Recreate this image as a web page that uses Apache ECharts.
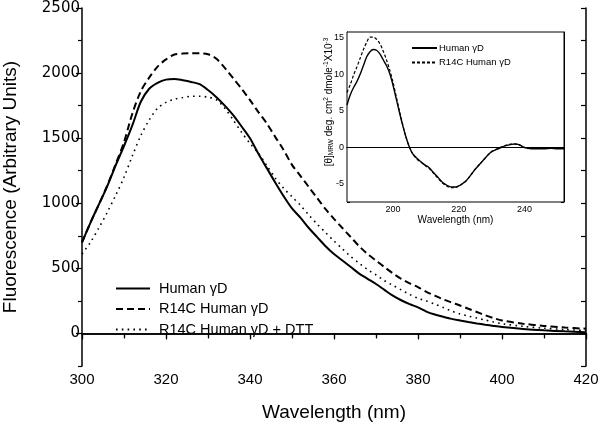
<!DOCTYPE html>
<html><head><meta charset="utf-8">
<script src="https://cdn.jsdelivr.net/npm/echarts@6/dist/echarts.min.js"></script>
<style>html,body{margin:0;padding:0;background:#fff}#c{width:600px;height:428px}</style>
</head><body><div id="c"></div>
<script>
// ---- main chart data ----
var wavelengths = [300,302,304,306,308,310,312,314,316,318,320,322,324,326,328,330,332,334,336,338,340,342,344,346,348,350,352,354,356,358,360,362,364,366,368,370,372,374,376,378,380,382,384,386,388,390,392,394,396,398,400,405,410,415,420];
var humanGD = [700,850,990,1130,1290,1440,1600,1780,1880,1925,1950,1955,1945,1932,1915,1870,1815,1750,1677,1590,1500,1380,1270,1160,1055,960,890,810,740,670,610,560,510,460,420,380,335,290,255,225,200,168,145,128,112,100,88,77,67,58,50,35,24,16,10];
var r14cGD = [700,850,990,1135,1300,1470,1690,1860,1965,2050,2105,2143,2150,2152,2152,2145,2110,2040,1960,1880,1792,1700,1613,1510,1410,1295,1210,1125,1040,955,880,810,740,670,610,560,510,462,420,385,356,320,290,262,238,215,190,165,140,118,100,75,58,46,36];
var r14cDTT = [610,700,810,930,1060,1200,1365,1520,1640,1730,1775,1800,1812,1822,1822,1815,1795,1730,1640,1545,1460,1385,1290,1195,1115,1050,985,910,840,775,710,650,590,540,490,450,405,370,335,300,270,250,225,200,172,150,133,118,103,88,75,55,40,30,23];
var seriesNames = ['Human \u03b3D','R14C Human \u03b3D','R14C Human \u03b3D + DTT'];
var xTicks = [300,320,340,360,380,400,420];
var yTicks = [0,500,1000,1500,2000,2500];
var yMinorTicks = [-250,250,750,1250,1750,2250];

// ---- inset (CD) data ----
var cdWavelengths = [186,187,188,189,190,191,192,193,194,195,196,197,198,199,200,201,202,203,204,205,206,207,208,209,210,211,212,213,214,215,216,217,218,219,220,221,222,223,224,225,226,227,228,229,230,231,232,233,234,235,236,237,238,239,240,241,242,244,246,248,250,252];
var cdHuman = [5.8,7.2,8.2,9.0,10.0,11.2,12.4,13.1,13.4,13.3,12.8,12.0,11.2,10.1,8.5,6.6,4.7,2.9,1.3,0.0,-0.9,-1.4,-1.8,-2.2,-2.5,-2.8,-3.3,-3.8,-4.3,-4.8,-5.1,-5.35,-5.45,-5.45,-5.3,-5.0,-4.7,-4.2,-3.6,-3.0,-2.5,-2.0,-1.5,-1.0,-0.6,-0.4,-0.2,0.0,0.2,0.3,0.4,0.45,0.4,0.2,-0.05,-0.15,-0.2,-0.2,-0.2,-0.15,-0.2,-0.2];
var cdR14C = [7.5,8.6,9.9,11.0,12.2,13.4,14.4,15.1,15.1,14.8,14.2,13.2,12.0,10.6,8.9,6.9,4.9,3.0,1.3,0.0,-0.9,-1.5,-1.9,-2.2,-2.6,-2.9,-3.4,-3.9,-4.4,-4.9,-5.2,-5.45,-5.55,-5.5,-5.35,-5.05,-4.7,-4.2,-3.6,-3.0,-2.5,-2.0,-1.5,-1.0,-0.6,-0.35,-0.15,0.05,0.2,0.35,0.45,0.45,0.4,0.25,0.0,-0.1,-0.15,-0.15,-0.1,-0.1,-0.1,-0.1];
var cdNames = ['Human \u03b3D ','R14C Human \u03b3D '];
var cdXLabels = [200,220,240];
var cdXTicks = [190,195,200,205,210,215,220,225,230,235,240,245,250];

function pairs(xs, ys){ return xs.map(function(x,i){ return [x, ys[i]]; }); }

var FONT = 'Liberation Sans, Arial, sans-serif';
var black = '#000';
var chart = echarts.init(document.getElementById('c'), null, {renderer:'canvas'});

var option = {
  backgroundColor: '#fff',
  animation: false,
  textStyle: {fontFamily: FONT, color: black},
  grid: [
    {left: 82, right: 14, top: 8, bottom: 62, containLabel: false, outerBoundsMode: 'none'},
    {left: 347, top: 32, width: 217, height: 170, show: true, backgroundColor: '#fff', borderColor: black, borderWidth: 1, z: 5, containLabel: false, outerBoundsMode: 'none'}
  ],
  legend: [
    {
      data: seriesNames, orient: 'vertical', left: 115, top: 281, padding: 0,
      itemWidth: 34, itemHeight: 10, itemGap: 5.5,
      itemStyle: {opacity: 0},
      textStyle: {fontSize: 14.5, fontFamily: FONT, color: black, padding: [0,0,0,4]},
      selectedMode: false
    },
    {
      data: cdNames, orient: 'vertical', left: 411, top: 43, padding: 0,
      itemWidth: 25, itemHeight: 8, itemGap: 4.5,
      itemStyle: {opacity: 0},
      textStyle: {fontSize: 9.5, fontFamily: FONT, color: black, padding: [0,0,0,-3]},
      selectedMode: false, z: 10,
      formatter: function(n){ return n.trim(); }
    }
  ],
  xAxis: [
    {
      type: 'value', gridIndex: 0, position: 'bottom', min: 300, max: 420, interval: 20,
      axisLine: {show: true, lineStyle: {color: black, width: 1.5}},
      axisTick: {show: true, length: 6, lineStyle: {color: black, width: 1.2}},
      minorTick: {show: true, splitNumber: 2, length: 4, lineStyle: {color: black, width: 1.2}},
      axisLabel: {fontSize: 15, color: black, margin: 6, fontFamily: FONT},
      splitLine: {show: false},
      name: 'Wavelength (nm)', nameLocation: 'middle', nameGap: 37, nameMoveOverlap: false,
      nameTextStyle: {fontSize: 19, color: black, fontFamily: FONT}
    },
    {
      type: 'value', gridIndex: 0, position: 'top', min: 300, max: 420, interval: 20,
      axisLine: {show: true, lineStyle: {color: black, width: 1.5}},
      axisTick: {show: true, inside: true, length: 5, lineStyle: {color: black, width: 1.2}},
      minorTick: {show: true, splitNumber: 2, length: 5, lineStyle: {color: black, width: 1.2}},
      axisLabel: {show: false}, splitLine: {show: false}
    },
    {
      type: 'value', gridIndex: 1, position: 'bottom', min: 186, max: 252,
      axisLine: {show: true, lineStyle: {color: black, width: 1}},
      axisTick: {show: true, inside: true, length: 3, customValues: cdXTicks, lineStyle: {color: black, width: 1}},
      axisLabel: {fontSize: 9, color: black, margin: 3, customValues: cdXLabels, fontFamily: FONT},
      splitLine: {show: false},
      name: 'Wavelength (nm)', nameLocation: 'middle', nameGap: 13, nameMoveOverlap: false,
      nameTextStyle: {fontSize: 10, color: black, fontFamily: FONT}
    },
    {
      type: 'value', gridIndex: 1, position: 'top', min: 186, max: 252,
      axisLine: {show: true, lineStyle: {color: black, width: 1}},
      axisTick: {show: false}, axisLabel: {show: false}, splitLine: {show: false}
    }
  ],
  yAxis: [
    {
      type: 'value', gridIndex: 0, position: 'left', min: -250, max: 2500,
      axisLine: {show: true, lineStyle: {color: black, width: 1.5}},
      axisTick: {show: true, length: 6, customValues: yTicks, lineStyle: {color: black, width: 1.2}},
      axisLabel: {fontSize: 15, color: black, margin: 2, customValues: yTicks, fontFamily: 'DejaVu Sans, sans-serif',
        formatter: function(v){ return String(v); }},
      splitLine: {show: false},
      name: 'Fluorescence (Arbitrary Units)', nameLocation: 'middle', nameGap: 62, nameMoveOverlap: false,
      nameTextStyle: {fontSize: 19, color: black, fontFamily: FONT}
    },
    {
      type: 'value', gridIndex: 0, position: 'left', min: -250, max: 2500,
      axisLine: {show: false},
      axisTick: {show: true, length: 4, customValues: yMinorTicks, lineStyle: {color: black, width: 1.2}},
      axisLabel: {show: false}, splitLine: {show: false}
    },
    {
      type: 'value', gridIndex: 0, position: 'right', min: -250, max: 2500, interval: 250,
      axisLine: {show: true, lineStyle: {color: black, width: 1.5}},
      axisTick: {show: true, inside: true, length: 5, lineStyle: {color: black, width: 1.2}},
      axisLabel: {show: false}, splitLine: {show: false}
    },
    {
      type: 'value', gridIndex: 1, position: 'left', min: -7.5, max: 15.8, interval: 2.5,
      axisLine: {show: true, lineStyle: {color: black, width: 1}},
      axisTick: {show: true, inside: true, length: 3, lineStyle: {color: black, width: 1}},
      axisLabel: {fontSize: 9, color: black, margin: 3, fontFamily: FONT,
        formatter: function(v){ return (Math.abs(v % 5) < 1e-9) ? String(v) : ''; }},
      splitLine: {show: false},
      name: '{a|[\u03b8]}{s|MRW}{a| deg. cm}{p|2}{a| dmole}{p|-1}{a|X10}{p|-3}',
      nameLocation: 'middle', nameGap: 12, nameMoveOverlap: false,
      nameTextStyle: {
        fontSize: 10, color: black, fontFamily: FONT, padding: [0,0,0,30],
        rich: {
          a: {fontSize: 10, fontFamily: FONT, color: black},
          s: {fontSize: 6.5, fontFamily: FONT, color: black, verticalAlign: 'bottom', padding: [4,0,0,0]},
          p: {fontSize: 6.5, fontFamily: FONT, color: black, verticalAlign: 'top', padding: [0,0,5,0]}
        }
      }
    },
    {
      type: 'value', gridIndex: 1, position: 'right', min: -7.5, max: 15.8, interval: 2.5,
      axisLine: {show: true, lineStyle: {color: black, width: 1}},
      axisTick: {show: true, inside: true, length: 3, lineStyle: {color: black, width: 1}},
      axisLabel: {show: false}, splitLine: {show: false}
    }
  ],
  series: [
    {name: seriesNames[0], type: 'line', xAxisIndex: 0, yAxisIndex: 0, data: pairs(wavelengths, humanGD),
     symbol: 'none', smooth: 0.3, lineStyle: {color: black, width: 2, type: 'solid'}, itemStyle: {color: black}},
    {name: seriesNames[1], type: 'line', xAxisIndex: 0, yAxisIndex: 0, data: pairs(wavelengths, r14cGD),
     symbol: 'none', smooth: 0.3, lineStyle: {color: black, width: 2, type: [7,4]}, itemStyle: {color: black}},
    {name: seriesNames[2], type: 'line', xAxisIndex: 0, yAxisIndex: 0, data: pairs(wavelengths, r14cDTT),
     symbol: 'none', smooth: 0.3, lineStyle: {color: black, width: 1.6, type: [1.6,4.2]}, itemStyle: {color: black}},
    {name: cdNames[0], type: 'line', xAxisIndex: 2, yAxisIndex: 3, data: pairs(cdWavelengths, cdHuman), z: 8,
     symbol: 'none', smooth: 0.3, lineStyle: {color: black, width: 1.4, type: 'solid'}, itemStyle: {color: black},
     markLine: {silent: true, symbol: ['none','none'], label: {show: false},
       lineStyle: {color: black, width: 1, type: 'solid'}, data: [{yAxis: 0}]}},
    {name: cdNames[1], type: 'line', xAxisIndex: 2, yAxisIndex: 3, data: pairs(cdWavelengths, cdR14C), z: 8,
     symbol: 'none', smooth: 0.3, lineStyle: {color: black, width: 1.2, type: [3,2]}, itemStyle: {color: black}}
  ]
};
chart.setOption(option);
</script>
</body></html>
